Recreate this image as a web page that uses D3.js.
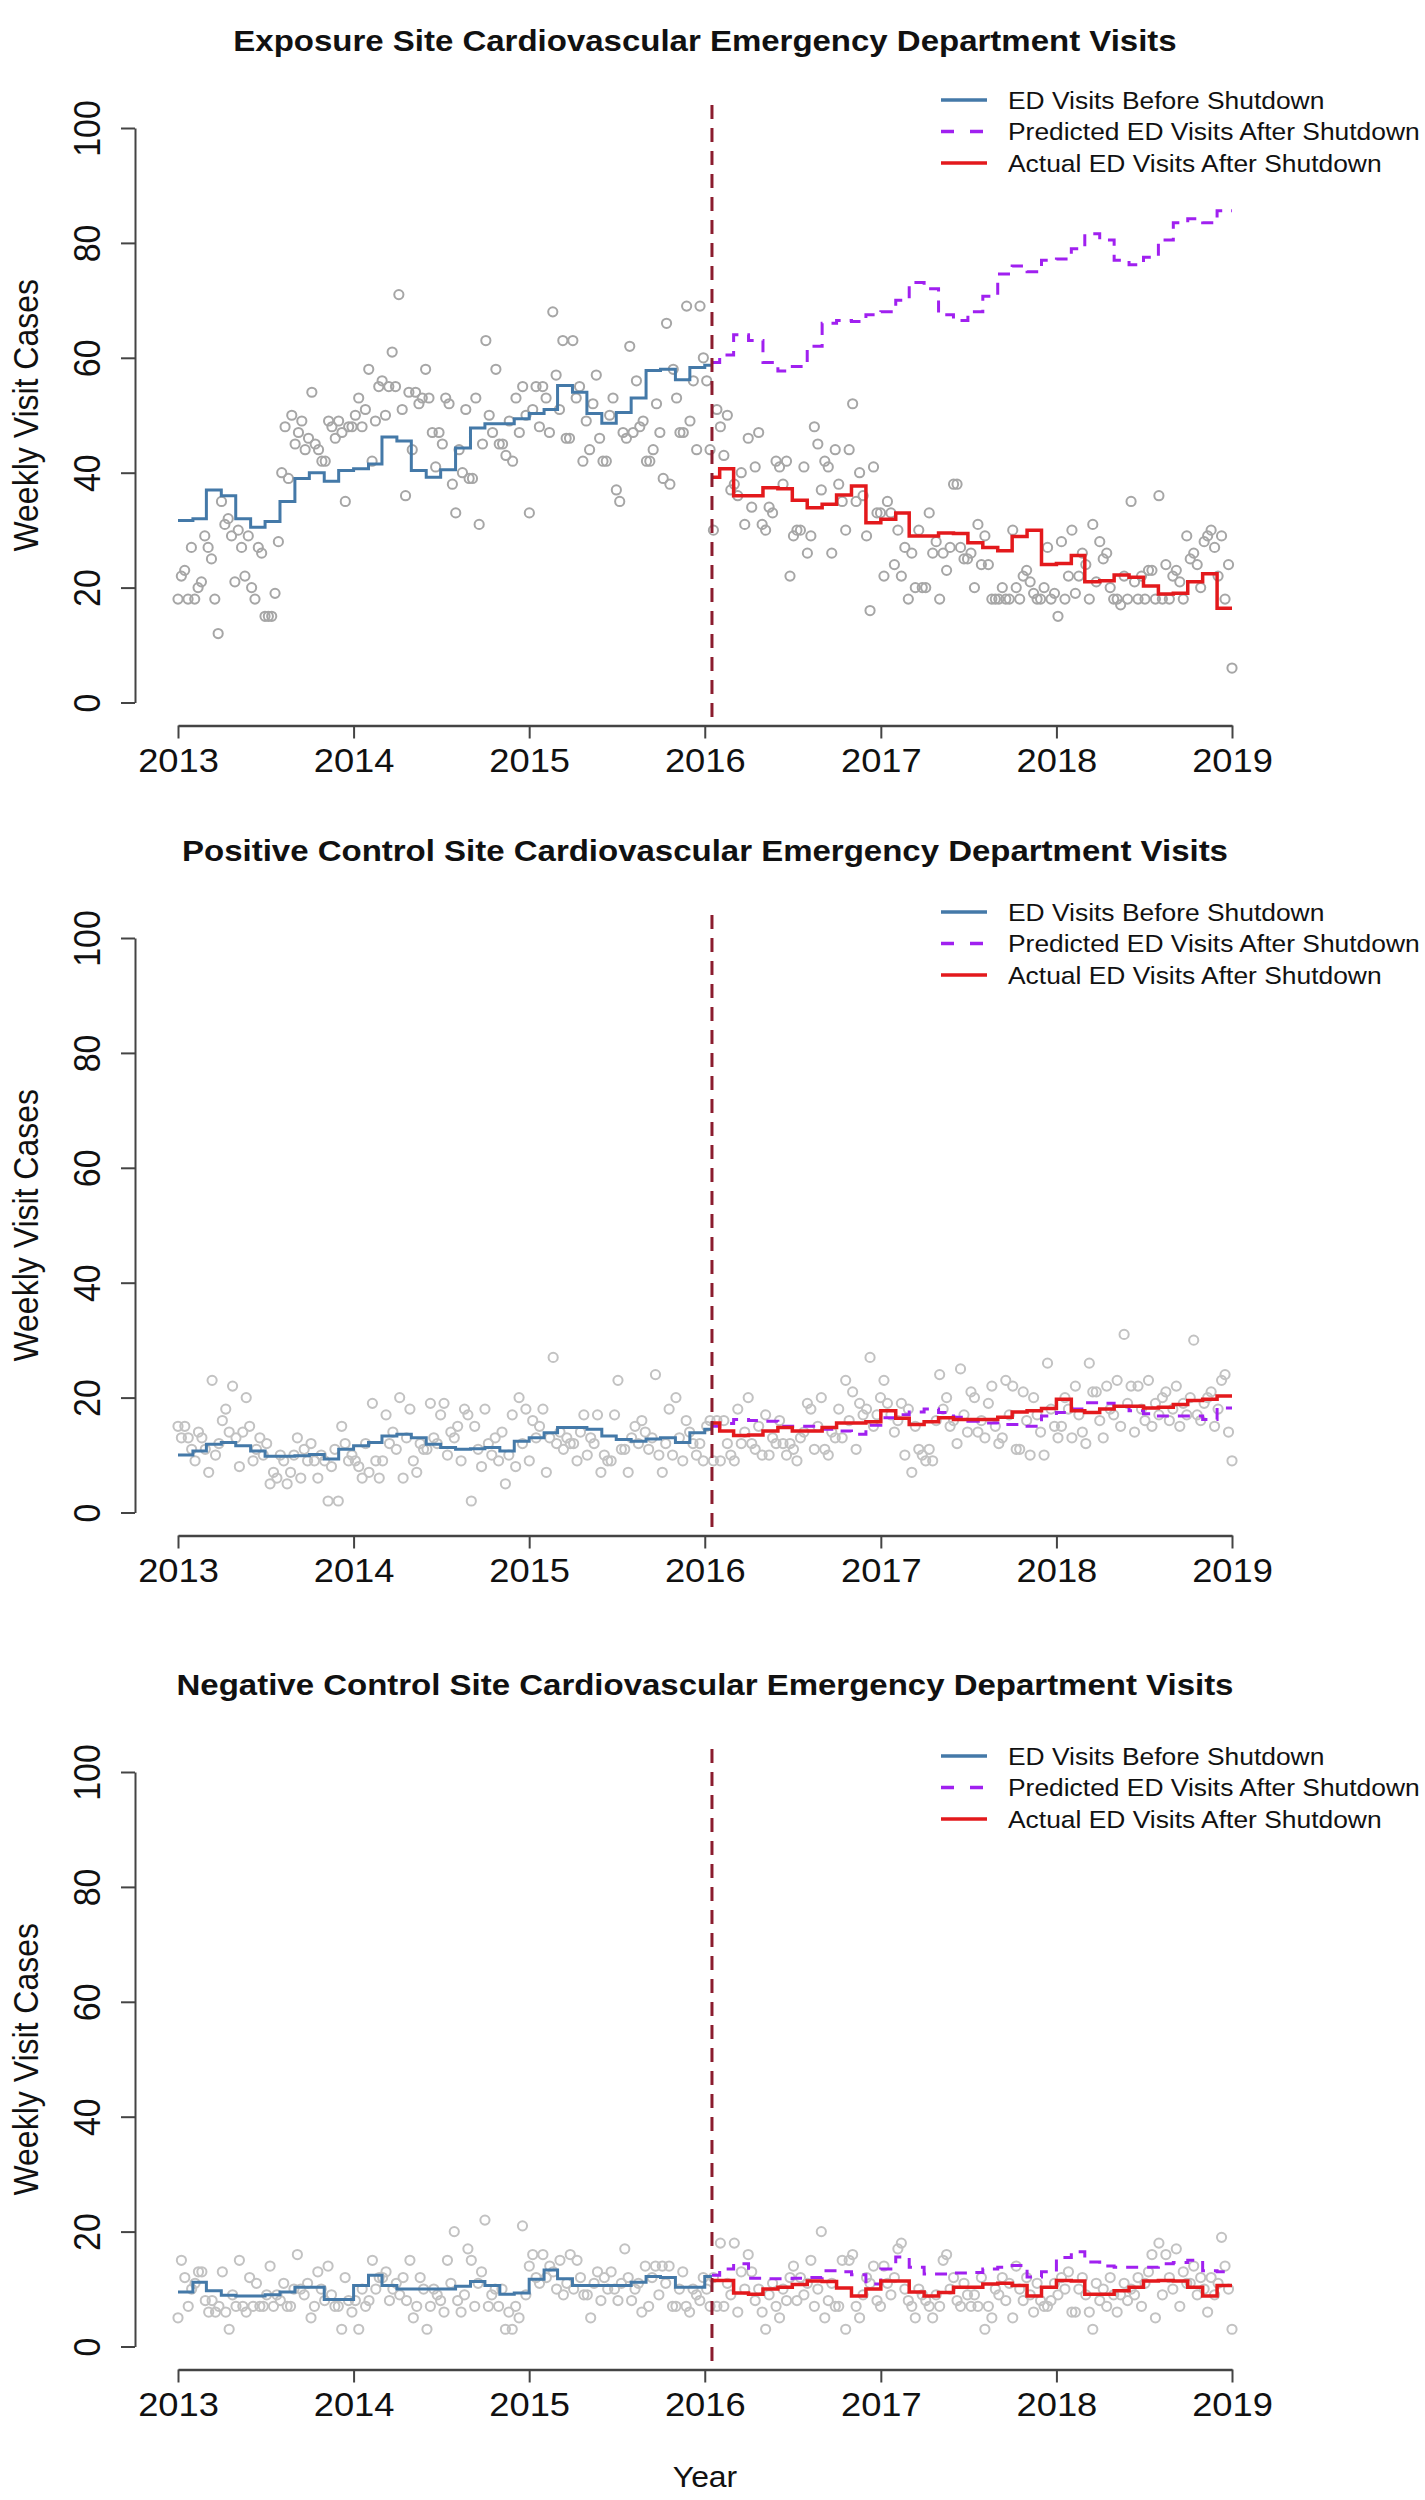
<!DOCTYPE html>
<html>
<head>
<meta charset="utf-8">
<script src="https://cdn.jsdelivr.net/npm/d3@7"></script>
<style>
	body { margin: 0; background: #fff; }
	svg text { font-family: "Liberation Sans", Arial, sans-serif; fill: #111; }
</style>
</head>
<body>
<svg id="chart" width="1425" height="2500"></svg>
<script>
// time frame
var startDate = '2013-01-01';
var shutdownDate = '2016-01-16';
var endDate = '2019-01-01';
var firstWeekBefore = '2013-01-01', lastWeekBefore = '2016-01-12';
var firstWeekAfter = '2016-01-19', lastWeekAfter = '2019-01-01';
var fitMonthBefore = '2013-01-01', fitMonthAfter = '2016-01-01';

var yearTicks = ['2013', '2014', '2015', '2016', '2017', '2018', '2019'];
var caseTicks = [0, 20, 40, 60, 80, 100];
var legendLabels = ['ED Visits Before Shutdown', 'Predicted ED Visits After Shutdown', 'Actual ED Visits After Shutdown'];
var panelTitles = [
	'Exposure Site Cardiovascular Emergency Department Visits',
	'Positive Control Site Cardiovascular Emergency Department Visits',
	'Negative Control Site Cardiovascular Emergency Department Visits'
];

// exposure site: weekly counts
var exposureWeeklyBefore = [18, 22, 23, 18, 27, 18, 20, 21, 29, 27, 25, 18, 12, 35, 31, 32, 29, 21, 30, 27, 22, 29,
	20, 18, 27, 26, 15, 15, 15, 19, 28, 40, 48, 39, 50, 45, 47, 49, 44, 46, 54, 45, 44, 42, 42, 49, 48, 46,
	49, 47, 35, 48, 48, 50, 53, 48, 51, 58, 42, 49, 55, 56, 50, 55, 61, 55, 71, 51, 36, 54, 44, 54, 52, 53,
	58, 53, 47, 41, 47, 45, 53, 52, 38, 33, 44, 40, 51, 39, 39, 53, 31, 45, 63, 50, 47, 58, 45, 45, 43, 49, 42,
	53, 47, 55, 50, 33, 51, 55, 48, 55, 53, 47, 68, 57, 51, 63, 46, 46, 63, 53, 55, 42, 49, 44, 52, 57,
	46, 42, 42, 50, 53, 37, 35, 47, 46, 62, 47, 56, 48, 49, 42, 42, 44, 52, 47, 39, 66, 38, 58, 53, 47,
	47, 69, 49, 56, 44, 69, 60, 56, 44];
var exposureWeeklyAfter = [30, 51, 48, 43, 50, 37, 38, 36, 40, 31, 46, 34, 41, 47, 31, 30, 34, 33, 42, 41, 38, 42,
	22, 29, 30, 30, 41, 26, 29, 48, 45, 37, 42, 41, 26, 44, 38, 35, 30, 44, 52, 35, 40, 36, 29, 16, 41, 33,
	33, 22, 35, 33, 24, 30, 22, 27, 18, 26, 20, 30, 20, 20, 33, 26, 28, 18, 26, 23, 27, 38, 38, 27, 25,
	25, 26, 20, 31, 24, 29, 24, 18, 18, 18, 20, 18, 18, 30, 20, 18, 22, 23, 21, 19, 18, 18, 20, 27, 18, 19,
	15, 28, 18, 22, 30, 19, 22, 26, 24, 18, 31, 21, 28, 25, 26, 20, 18, 18, 17, 22, 18, 35, 21, 18, 22,
	18, 23, 23, 18, 36, 18, 24, 18, 22, 23, 21, 18, 29, 25, 26, 24, 20, 28, 29, 30, 27, 22, 29, 18, 24, 6];
// exposure site: model lines, one value per month
var exposureFitBefore = [31.7, 32, 37, 36, 32, 30.5, 31.5, 35, 39, 40, 38.5, 40.4, 40.7, 41.5, 46.2, 45.5, 40.4,
	39.2, 40.5, 44.3, 47.8, 48.5, 48.5, 49.4, 50.3, 51, 55.2, 54, 50.3, 48.6, 50.5, 53, 57.8, 58, 56.2, 58.3, 58.7];
var exposurePredicted = [59.2, 60.5, 64, 63, 59.2, 57.7, 58.5, 62, 66, 66.5, 66.3, 67.5, 68, 70, 73.1, 72, 67.5,
	66.5, 68, 70.7, 74.6, 76, 75, 77, 77.2, 79, 81.6, 80.5, 77, 76.2, 77.5, 80.5, 83.5, 84.2, 83.5, 85.6];
var exposureActual = [39.2, 40.7, 36, 36, 37.4, 37.2, 35.2, 33.9, 34.5, 36.1, 37.7, 31.3, 31.9, 33, 29, 29, 29.5,
	29.4, 27.8, 27, 26.4, 28.9, 30, 24, 24.2, 25.6, 21, 21.2, 22.2, 21.8, 20.3, 18.9, 19, 21, 22.4, 16.4];

// positive control site
var positiveWeeklyBefore = [15, 13, 15, 13, 11, 9, 14, 13, 11, 7, 23, 10, 12, 16, 18, 14, 22, 13, 8, 14, 20, 15,
	9, 11, 13, 10, 12, 5, 7, 6, 10, 9, 5, 7, 10, 13, 6, 11, 9, 12, 9, 6, 10, 9, 2, 8, 11, 2, 15, 12, 9, 10,
	9, 8, 6, 12, 7, 19, 9, 6, 9, 17, 12, 14, 11, 20, 6, 13, 18, 9, 7, 12, 11, 11, 19, 13, 12, 17, 19, 10, 14,
	13, 15, 9, 18, 17, 2, 15, 11, 8, 18, 12, 10, 13, 9, 14, 5, 10, 17, 8, 20, 12, 18, 9, 16, 13, 15, 18, 7, 13,
	27, 12, 14, 11, 13, 12, 12, 9, 14, 17, 10, 13, 12, 17, 7, 10, 9, 9, 17, 23, 11, 11, 7, 13, 15, 12,
	16, 14, 11, 13, 24, 10, 7, 12, 18, 10, 20, 13, 9, 16, 14, 12, 10, 12, 9, 15, 16];
var positiveWeeklyAfter = [9, 16, 9, 16, 12, 10, 9, 18, 12, 14, 20, 12, 11, 15, 10, 17, 10, 13, 12, 16, 12, 10, 12,
	11, 9, 13, 14, 19, 18, 11, 15, 20, 11, 10, 14, 13, 18, 13, 23, 16, 21, 11, 19, 17, 18, 27, 15, 17,
	20, 23, 19, 17, 14, 16, 19, 10, 18, 7, 15, 11, 10, 9, 11, 9, 16, 24, 18, 20, 15, 16, 12, 25, 17, 14,
	21, 20, 14, 16, 13, 19, 22, 15, 12, 13, 23, 17, 22, 11, 11, 21, 16, 10, 20, 17, 14, 10, 26, 18, 15,
	13, 15, 20, 18, 13, 22, 17, 14, 12, 26, 21, 21, 16, 13, 22, 18, 17, 23, 15, 31, 19, 22, 14, 22, 18, 16,
	23, 15, 19, 17, 20, 21, 16, 18, 22, 15, 19, 17, 20, 30, 17, 16, 19, 20, 21, 15, 18, 23, 24, 14, 9];
var positiveFitBefore = [10, 10.7, 11.9, 12.2, 11.6, 10.7, 9.8, 9.8, 9.9, 10.1, 9.3, 11, 11.6, 12.2, 13.3, 13.6, 13,
	11.9, 11.3, 11, 11.1, 11.3, 10.7, 12.4, 13, 13.9, 14.8, 14.8, 14.5, 13.3, 12.7, 12.4, 12.8, 13, 12.2, 13.9, 14.5];
var positivePredicted = [15, 15.5, 16.2, 16, 15.9, 15, 15, 15, 14.5, 14.2, 13.6, 15.2, 16.5, 17, 17.5, 18, 17.4,
	16.6, 15.9, 15.6, 15.3, 15.3, 15, 16.8, 17.4, 18, 19.1, 19, 18.5, 17.7, 17.2, 16.8, 16.8, 16.8, 16.2, 18.2];
var positiveActual = [15.6, 14.2, 13.4, 13.5, 14.2, 14.8, 14.2, 14.2, 14.8, 15.6, 15.6, 15.8, 17.7, 16.4, 15.3,
	15.8, 16.5, 16.2, 16.2, 16.2, 16.6, 17.5, 17.7, 18.1, 19.7, 17.7, 17.4, 18, 18.5, 18.5, 18.2, 18.3, 18.8, 19.5, 19.7, 20.3];

// negative control site
var negativeWeeklyBefore = [5, 15, 12, 7, 10, 11, 13, 13, 8, 6, 8, 6, 7, 13, 6, 3, 9, 7, 15, 7, 6, 12,
	7, 11, 7, 7, 9, 14, 7, 9, 8, 11, 7, 7, 10, 16, 10, 9, 11, 5, 7, 13, 10, 8, 14, 9, 7, 7, 3, 12, 8, 6,
	8, 3, 10, 7, 8, 15, 10, 12, 12, 13, 8, 10, 11, 9, 12, 8, 15, 5, 7, 12, 10, 3, 7, 10, 9, 8, 6, 15, 11,
	20, 8, 6, 9, 17, 15, 7, 11, 13, 22, 7, 9, 10, 7, 10, 3, 6, 3, 7, 5, 21, 9, 14, 16, 12, 11, 16, 12, 14,
	13, 10, 15, 9, 11, 16, 10, 15, 12, 9, 9, 5, 11, 13, 8, 12, 10, 13, 10, 8, 11, 17, 12, 8, 10, 11,
	6, 14, 7, 12, 14, 9, 14, 11, 14, 7, 7, 10, 13, 7, 6, 10, 9, 8, 12, 10, 7];
var negativeWeeklyAfter = [12, 7, 18, 7, 11, 9, 18, 6, 13, 10, 16, 13, 8, 10, 6, 3, 9, 11, 7, 5, 10, 8, 12,
	14, 8, 12, 9, 11, 15, 7, 10, 20, 5, 8, 11, 7, 7, 15, 3, 15, 16, 7, 5, 9, 12, 11, 14, 8,
	7, 14, 11, 9, 12, 17, 18, 10, 8, 7, 5, 10, 9, 8, 7, 5, 9, 7, 15, 16, 10, 12, 8, 7, 11, 9,
	7, 9, 7, 12, 3, 7, 5, 10, 9, 12, 8, 11, 5, 14, 10, 8, 12, 9, 6, 11, 8, 7, 7, 8, 11,
	9, 12, 10, 13, 6, 6, 10, 12, 9, 6, 3, 11, 8, 10, 7, 12, 9, 6, 9, 11, 8, 10, 9, 12, 7, 11,
	13, 16, 5, 18, 9, 16, 12, 10, 17, 7, 13, 11, 11, 14, 9, 12, 10, 6, 12, 9, 11, 19, 14, 10, 3];
var negativeFitBefore = [9.5, 11.2, 9.7, 8.9, 8.8, 8.8, 9, 9.5, 10.3, 10.3, 8.2, 8.2, 10.6, 12.4, 10.6, 10, 10, 10,
	10, 10.5, 11.3, 10.6, 9.1, 9.3, 11.7, 13.3, 11.8, 10.6, 10.6, 10.6, 10.6, 11.2, 12.2, 12, 10.3, 10.3, 12.2];
var negativePredicted = [12.4, 13.5, 14.4, 11.9, 11.8, 11.8, 11.9, 12, 13.2, 13, 12.5, 10.9, 13.5, 15.6, 13.8,
	12.6, 12.6, 12.8, 12.9, 13.5, 13.8, 14.1, 12.1, 13, 15.5, 16.5, 14.7, 14, 13.8, 13.8, 13.8, 14.4, 14.6, 15, 13.2, 13];
var negativeActual = [11.5, 11.5, 9.3, 9.1, 10, 10.3, 10.8, 11.4, 11.3, 10.2, 8.8, 10, 11.4, 11.4, 9.5, 8.8, 9.4,
	10.3, 10.3, 10.9, 11, 10.6, 8.8, 10.3, 11.5, 11.4, 9.1, 9.1, 9.7, 10.3, 11.4, 11.5, 11.4, 10.3, 8.8, 10.6];

const Chart = {
	xRange: [178, 1232],
	plotTop: 105,
	plotBottom: 725.5,
	yRange: [702.5, 128],
	axisLeftX: 135,
	panelOffsets: [0, 810, 1644],
	legendTops: [100, 102, 112],
	legendRowGap: 31.5,
	pointColors: ['#a6a6a6', '#c2c2c2', '#c2c2c2'],
	stretch: 'scale(1.1,1)',

	colors: { before: '#4479a8', predicted: '#a020f0', actual: '#e3191c', shutdown: '#8b1c2e' },

	parseDate: d3.timeParse('%Y-%m-%d'),
	x: null,

	init: function() {
		const self = this;
		self.x = d3.scaleTime()
			.domain([self.parseDate(startDate), self.parseDate(endDate)])
			.range(self.xRange);
	},
	draw: function() {
		const self = this;
		var panels = [
			{ before: exposureWeeklyBefore, after: exposureWeeklyAfter, fit: exposureFitBefore, predicted: exposurePredicted, actual: exposureActual },
			{ before: positiveWeeklyBefore, after: positiveWeeklyAfter, fit: positiveFitBefore, predicted: positivePredicted, actual: positiveActual },
			{ before: negativeWeeklyBefore, after: negativeWeeklyAfter, fit: negativeFitBefore, predicted: negativePredicted, actual: negativeActual }
		];
		var svg = d3.select('#chart');

		svg.append('rect').attr('width', 1425).attr('height', 2500).attr('fill', '#fff');

		panels.forEach(function(d, i) {
			var g = svg.append('g')
				.attr('transform', 'translate(' + [0, self.panelOffsets[i]] + ')');
			self.drawPanel(g, d, i);
		});

		// shared x label
		svg.append('text')
			.attr('transform', 'translate(705,2487) ' + self.stretch)
			.attr('text-anchor', 'middle')
			.style('font-size', '29px')
			.text('Year');
	},

	// weekly points are spread evenly over their period
	weeklyPoints: function(values, first, last) {
		const self = this;
		var t0 = self.parseDate(first).getTime();
		var t1 = self.parseDate(last).getTime();
		var step = (t1 - t0) / (values.length - 1);
		return values.map(function(v, i) { return { date: new Date(t0 + i * step), value: v }; });
	},
	// monthly model values as a step line between two dates
	monthlySteps: function(values, firstMonth, from, to) {
		const self = this;
		var points = values.map(function(v, i) {
			var date = d3.timeMonth.offset(self.parseDate(firstMonth), i);
			return { date: date < from ? from : date, value: v };
		}).filter(function(p) { return p.date < to; });
		points.push({ date: to, value: points[points.length - 1].value });
		return points;
	},

	drawPanel: function(g, data, index) {
		const self = this;
		var x = self.x;
		var y = d3.scaleLinear().domain([0, 100]).range(self.yRange);
		var shutdown = self.parseDate(shutdownDate);
		var start = self.parseDate(startDate), end = self.parseDate(endDate);

		// title
		g.append('text')
			.attr('transform', 'translate(705,51) ' + self.stretch)
			.attr('text-anchor', 'middle')
			.style('font-size', '30px')
			.style('font-weight', 'bold')
			.text(panelTitles[index]);

		// y label
		g.append('text')
			.attr('transform', 'translate(38,' + ((self.yRange[0] + self.yRange[1]) / 2) + ') ' + self.stretch + ' rotate(-90)')
			.attr('text-anchor', 'middle')
			.style('font-size', '32px')
			.text('Weekly Visit Cases');

		// points
		var points = self.weeklyPoints(data.before, firstWeekBefore, lastWeekBefore)
			.concat(self.weeklyPoints(data.after, firstWeekAfter, lastWeekAfter));
		g.append('g').selectAll('circle')
			.data(points)
			.enter().append('circle')
			.attr('cx', function(d) { return x(d.date); })
			.attr('cy', function(d) { return y(d.value); })
			.attr('r', 4.6)
			.attr('fill', 'none')
			.attr('stroke', self.pointColors[index])
			.attr('stroke-width', 2);

		// model lines
		var line = d3.line()
			.x(function(d) { return x(d.date); })
			.y(function(d) { return y(d.value); })
			.curve(d3.curveStepAfter);
		var series = [
			{ points: self.monthlySteps(data.fit, fitMonthBefore, start, shutdown), color: self.colors.before, dash: null, width: 3 },
			{ points: self.monthlySteps(data.predicted, fitMonthAfter, shutdown, end), color: self.colors.predicted, dash: '12,9', width: 3 },
			{ points: self.monthlySteps(data.actual, fitMonthAfter, shutdown, end), color: self.colors.actual, dash: null, width: 3.5 }
		];
		series.forEach(function(s) {
			g.append('path')
				.attr('d', line(s.points))
				.attr('fill', 'none')
				.attr('stroke', s.color)
				.attr('stroke-width', s.width)
				.attr('stroke-dasharray', s.dash);
		});

		// shutdown marker
		g.append('line')
			.attr('x1', x(shutdown)).attr('x2', x(shutdown))
			.attr('y1', self.plotTop).attr('y2', self.plotBottom)
			.attr('stroke', self.colors.shutdown)
			.attr('stroke-width', 3)
			.attr('stroke-dasharray', '14,9');

		// axes
		var xAxis = g.append('g')
			.attr('transform', 'translate(0,' + self.plotBottom + ')')
			.style('color', '#444')
			.call(d3.axisBottom(x)
				.tickValues(yearTicks.map(function(t) { return self.parseDate(t + '-01-01'); }))
				.tickFormat(d3.timeFormat('%Y'))
				.tickSize(13)
				.tickSizeOuter(0));
		xAxis.select('.domain').attr('stroke-width', 2.5);
		xAxis.selectAll('.tick line').attr('stroke-width', 2);
		xAxis.selectAll('.tick text')
			.attr('y', 0).attr('dy', 0)
			.attr('transform', 'translate(0,46) ' + self.stretch)
			.style('font-family', '"Liberation Sans", Arial, sans-serif')
			.style('font-size', '33px')
			.attr('fill', '#111');

		var yAxis = g.append('g')
			.attr('transform', 'translate(' + self.axisLeftX + ',0)')
			.style('color', '#444')
			.call(d3.axisLeft(y).tickValues(caseTicks).tickSize(14).tickSizeOuter(0));
		yAxis.select('.domain').attr('stroke-width', 2);
		yAxis.selectAll('.tick line').attr('stroke-width', 2);
		yAxis.selectAll('.tick text')
			.attr('x', 0).attr('dy', 0)
			.attr('text-anchor', 'middle')
			.attr('transform', 'translate(-35,0) ' + self.stretch + ' rotate(-90)')
			.style('font-family', '"Liberation Sans", Arial, sans-serif')
			.style('font-size', '34px')
			.attr('fill', '#111');

		self.drawLegend(g, self.legendTops[index]);
	},

	drawLegend: function(g, top) {
		const self = this;
		var keys = [
			{ color: self.colors.before, dash: null },
			{ color: self.colors.predicted, dash: '13,16' },
			{ color: self.colors.actual, dash: null }
		];
		var rows = g.append('g').selectAll('g')
			.data(keys)
			.enter().append('g')
			.attr('transform', function(d, i) { return 'translate(0,' + (top + i * self.legendRowGap) + ')'; });

		rows.append('line')
			.attr('x1', 941).attr('x2', 987)
			.attr('stroke', function(d) { return d.color; })
			.attr('stroke-width', 3.5)
			.attr('stroke-dasharray', function(d) { return d.dash; });
		rows.append('text')
			.attr('transform', 'translate(1008,8.6) ' + self.stretch)
			.style('font-size', '24px')
			.attr('fill', '#222')
			.text(function(d, i) { return legendLabels[i]; });
	}
}

Chart.init();
Chart.draw();
</script>
</body>
</html>
